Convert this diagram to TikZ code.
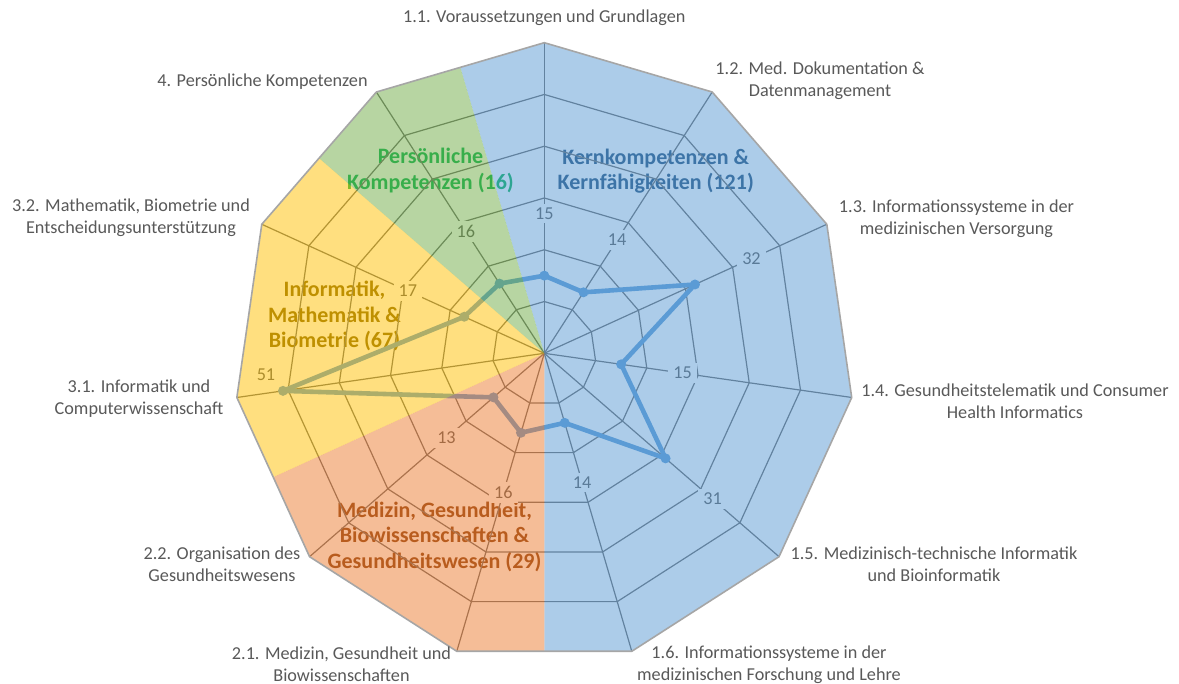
\documentclass[tikz,border=0pt]{standalone}
\usepackage{fontspec}
\setmainfont{Carlito}
\usetikzlibrary{calc}

\definecolor{kernblue}{HTML}{5B9BD5}
\definecolor{medorange}{HTML}{ED7D31}
\definecolor{infyellow}{HTML}{FFC000}
\definecolor{persgreen}{HTML}{70AD47}
\definecolor{txtgray}{HTML}{595959}
\definecolor{gridgray}{HTML}{6A6A6A}
\definecolor{rimgray}{HTML}{A6A6A6}
\definecolor{kerntext}{HTML}{1F4E79}
\definecolor{medtext}{HTML}{843C0C}
\definecolor{inftext}{HTML}{7F6000}
\definecolor{perstext}{HTML}{00B050}

\newcommand{\R}{310.6}

\begin{document}
\begin{tikzpicture}[
  x=1pt,y=1pt,
  catlabel/.style={align=center,text=txtgray,inner sep=0pt,font=\fontsize{18.2}{22}\selectfont},
  grouplabel/.style={align=center,inner sep=0pt,font=\fontsize{22}{25.5}\selectfont\bfseries},
  vallabel/.style={fill=white,text=txtgray,inner xsep=5pt,inner ysep=4pt,font=\fontsize{18.2}{22}\selectfont},
  gridline/.style={draw=gridgray,line width=1.2},
  rim/.style={draw=rimgray,line width=1.6,line join=round},
  dataline/.style={draw=kernblue,line width=4.6,line join=round},
  dot/.style={circle,fill=kernblue,inner sep=0pt,minimum size=10},
  sector/.style={fill opacity=0.5}
]
\useasboundingbox (-544.3,-330.7) rectangle (634.7,353.3);
\fill[white] (-544.3,-330.7) rectangle (634.7,353.3);

% axes and grid
\coordinate (c) at (0,0);
\foreach \k in {0,...,10} {
  \coordinate (v\k) at ({90-\k*360/11}:\R);
  \coordinate (m\k) at ({90-(\k+0.5)*360/11}:{\R*cos(180/11)});
}

% group titles (lie under the coloured sectors)
\node[grouplabel,text=perstext] (pers) at (-113.8,182.8) {Persönliche\\Kompetenzen (16)};
\node[grouplabel,text=kerntext] (kern) at (111.5,182.3) {Kernkompetenzen \&\\Kernfähigkeiten (121)};
\node[grouplabel,text=inftext] (inf) at (-209.8,37.3) {Informatik,\\Mathematik \&\\Biometrie (67)};
\node[grouplabel,text=medtext] (med) at (-109.8,-183.4) {Medizin, Gesundheit,\\Biowissenschaften \&\\Gesundheitswesen (29)};

\foreach \i in {1,...,5}
  \draw[gridline] (90:{\i*\R/6}) \foreach \k in {1,...,10} { -- ({90-\k*360/11}:{\i*\R/6}) } -- cycle;
\foreach \k in {0,...,10}
  \draw[gridline] (c) -- (v\k);

% data
\foreach \k/\v in {0/15,1/14,2/32,3/15,4/31,5/14,6/16,7/13,8/51,9/17,10/16}
  \coordinate (p\k) at ({90-\k*360/11}:{\v*\R/60});
\draw[dataline] (p0) \foreach \k in {1,...,10} { -- (p\k) } -- cycle;
\foreach \k in {0,...,10}
  \node[dot] (d\k) at (p\k) {};

\foreach \k/\v in {0/15,1/14,2/32,3/15,4/31,5/14,6/16,7/13,9/17,10/16}
  \node[vallabel] (val\k) at ({90-\k*360/11}:{(\v+12)*\R/60}) {\v};
\node[vallabel] (val8) at (-278.3,-21.7) {51};

% coloured sectors
\fill[sector,fill=kernblue] (c) -- (m10) -- (v0) -- (v1) -- (v2) -- (v3) -- (v4) -- (v5) -- (m5) -- cycle;
\fill[sector,fill=medorange] (c) -- (m5) -- (v6) -- (v7) -- (m7) -- cycle;
\fill[sector,fill=infyellow] (c) -- (m7) -- (v8) -- (v9) -- (m9) -- cycle;
\fill[sector,fill=persgreen] (c) -- (m9) -- (v10) -- (m10) -- cycle;
\draw[rim] (v0) \foreach \k in {1,...,10} { -- (v\k) } -- cycle;

% category names
\node[catlabel] (cat11) at (0,335.3) {1.1. Voraussetzungen und Grundlagen};
\node[catlabel] (cat12) at (275.7,272.3) {1.2. Med. Dokumentation \&\\Datenmanagement};
\node[catlabel] (cat13) at (412.2,134.3) {1.3. Informationssysteme in der\\medizinischen Versorgung};
\node[catlabel] (cat14) at (470.7,-47.7) {1.4. Gesundheitstelematik und Consumer\\Health Informatics};
\node[catlabel] (cat15) at (389.7,-211.2) {1.5. Medizinisch-technische Informatik\\und Bioinformatik};
\node[catlabel] (cat16) at (224.7,-311.2) {1.6. Informationssysteme in der\\medizinischen Forschung und Lehre};
\node[catlabel] (cat21) at (-202.8,-311.2) {2.1. Medizin, Gesundheit und\\Biowissenschaften};
\node[catlabel] (cat22) at (-322.3,-211.2) {2.2. Organisation des\\Gesundheitswesens};
\node[catlabel] (cat31) at (-405.3,-45.7) {3.1. Informatik und\\Computerwissenschaft};
\node[catlabel] (cat32) at (-413.3,135.3) {3.2. Mathematik, Biometrie und\\Entscheidungsunterstützung};
\node[catlabel] (cat4) at (-281.8,271.3) {4. Persönliche Kompetenzen};
\end{tikzpicture}
\end{document}
